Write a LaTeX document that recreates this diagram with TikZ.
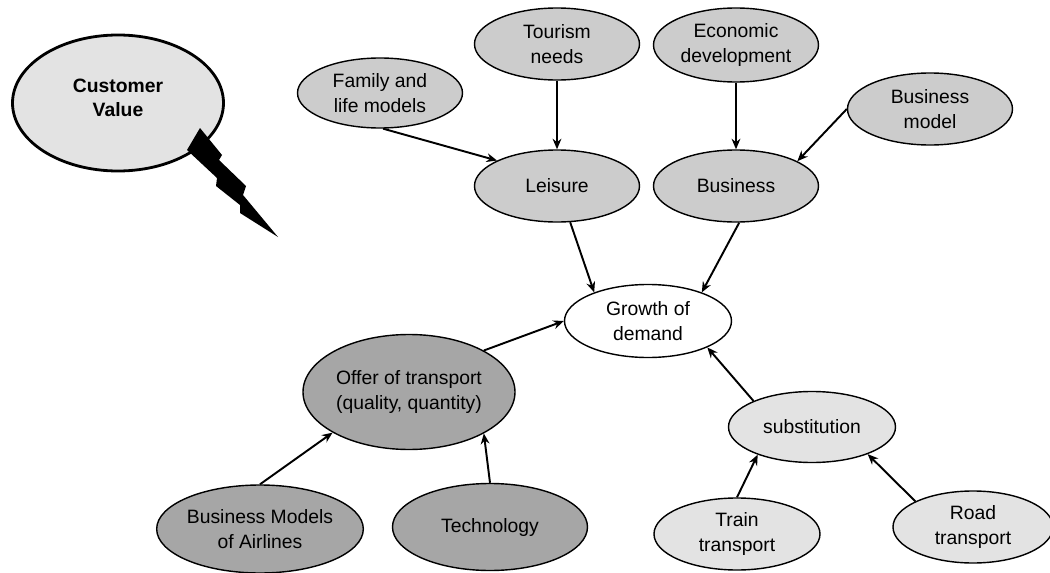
\documentclass[tikz,border=0pt]{standalone}
\usepackage{fontspec}
\setmainfont{Liberation Sans}
\usetikzlibrary{shapes.geometric, arrows.meta}

\begin{document}
\begin{tikzpicture}[
  enode/.style={ellipse, draw, line width=0.8pt, inner sep=0pt, align=center,
    font=\fontsize{11}{14}\selectfont, minimum width=3.3cm, minimum height=1.44cm},
  midnode/.style={enode, fill=black!20},
  darknode/.style={enode, fill=black!35},
  lightnode/.style={enode, fill=black!11},
  plainnode/.style={enode, fill=white},
  cvnode/.style={enode, fill=black!11, line width=1.6pt, font=\fontsize{11}{14}\selectfont\bfseries},
  >={Stealth[length=6pt, width=5pt]},
  line width=1.1pt
]
  \useasboundingbox (0,0) rectangle (21,-11.46);

  % Customer Value callout
  \node[cvnode, minimum width=4.22cm, minimum height=2.72cm] (cv) at (2.36,-2.06) {Customer\\Value\\[-8pt]};
  \fill (4.0,-2.56) -- (4.44,-3.1) -- (4.38,-3.2) -- (4.92,-3.72) -- (4.86,-3.9)
    -- (5.56,-4.74) -- (4.8,-4.26) -- (4.8,-4.1) -- (4.32,-3.72) -- (4.34,-3.56)
    -- (3.74,-3.0) -- cycle;

  % Horni rada
  \node[midnode, minimum height=1.4cm] (fam) at (7.6,-1.86) {Family and\\life models};
  \node[midnode] (tour) at (11.14,-0.88) {Tourism\\needs};
  \node[midnode, minimum height=1.48cm] (econ) at (14.72,-0.9) {Economic\\development};
  \node[midnode] (bmod) at (18.6,-2.18) {Business\\model};

  \node[midnode] (leis) at (11.14,-3.72) {Leisure};
  \node[midnode] (bus) at (14.72,-3.72) {Business};

  % Stred
  \node[plainnode, minimum width=3.34cm, minimum height=1.46cm] (grow) at (12.96,-6.42) {Growth of\\demand};
  \node[darknode, minimum width=4.24cm, minimum height=2.3cm] (offer) at (8.18,-7.84) {Offer of transport\\(quality, quantity)};
  \node[lightnode, minimum width=3.34cm, minimum height=1.42cm] (subst) at (16.24,-8.54) {substitution};

  % Spodni rada
  \node[darknode, minimum width=3.92cm, minimum height=1.76cm] (bma) at (5.2,-10.58) {Business Models\\of Airlines};
  \node[darknode, minimum width=3.9cm, minimum height=1.74cm] (tech) at (9.8,-10.54) {Technology};
  \node[lightnode, minimum width=3.32cm] (train) at (14.74,-10.68) {Train\\transport};
  \node[lightnode, minimum width=3.2cm] (road) at (19.46,-10.54) {Road\\transport};

  % Sipky
  \draw[->] (fam.-85) -- (leis.157);
  \draw[->] (tour.south) -- (leis.north);
  \draw[->] (econ.south) -- (bus.north);
  \draw[->] (bmod.west) -- (bus.22);
  \draw[->] (leis.-70) -- (grow.152);
  \draw[->] (bus.-85) -- (grow.28);
  \draw[->] (offer.29) -- (grow.west);
  \draw[->] (subst.156) -- (grow.-24);
  \draw[->] (bma.north) -- (offer.208);
  \draw[->] (tech.north) -- (offer.-29);
  \draw[->] (train.north) -- (subst.207);
  \draw[->] (road.156) -- (subst.-26);

\end{tikzpicture}
\end{document}
